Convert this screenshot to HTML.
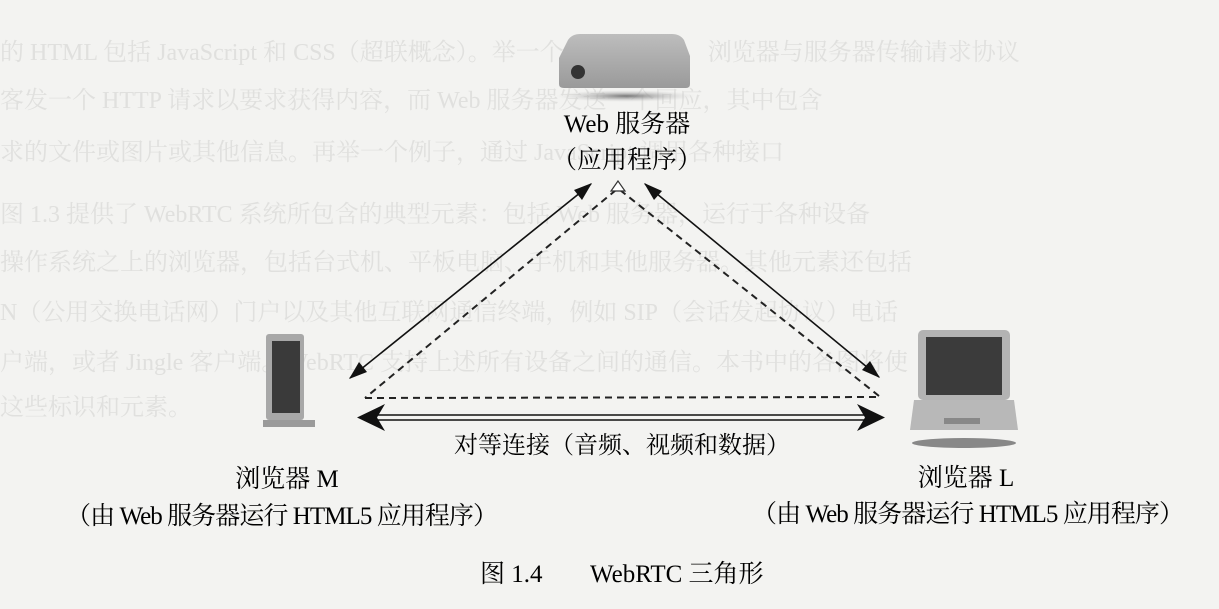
<!DOCTYPE html>
<html><head><meta charset="utf-8"><style>
html,body{margin:0;padding:0;background:#f3f3f1;}
svg{display:block;}
text{font-family:"Liberation Serif","Noto Serif CJK SC","Noto Sans CJK SC",serif;}
</style></head><body>
<svg width="1219" height="609" viewBox="0 0 1219 609" xmlns="http://www.w3.org/2000/svg">
<defs>
<linearGradient id="srv" x1="0" y1="0" x2="0" y2="1"><stop offset="0" stop-color="#bdbdbd"/><stop offset="1" stop-color="#9a9a9a"/></linearGradient>
<radialGradient id="sh"><stop offset="0" stop-color="#777"/><stop offset="1" stop-color="#ccc" stop-opacity="0"/></radialGradient>
</defs>
<rect width="1219" height="609" fill="#f3f3f1"/>
<g fill="#e0e0de" font-size="24">
<text x="0" y="60">的 HTML 包括 JavaScript 和 CSS（超联概念）。举一个简单的例子，浏览器与服务器传输请求协议</text>
<text x="0" y="108">客发一个 HTTP 请求以要求获得内容，而 Web 服务器发送一个回应，其中包含</text>
<text x="0" y="160">求的文件或图片或其他信息。再举一个例子，通过 JavaScript 调用各种接口</text>
<text x="0" y="222">图 1.3 提供了 WebRTC 系统所包含的典型元素：包括 Web 服务器，运行于各种设备</text>
<text x="0" y="270">操作系统之上的浏览器，包括台式机、平板电脑、手机和其他服务器。其他元素还包括</text>
<text x="0" y="320">N（公用交换电话网）门户以及其他互联网通信终端，例如 SIP（会话发起协议）电话</text>
<text x="0" y="370">户端，或者 Jingle 客户端。WebRTC 支持上述所有设备之间的通信。本书中的各图将使</text>
<text x="0" y="415">这些标识和元素。</text>
</g>
<ellipse cx="626" cy="96" rx="70" ry="6" fill="url(#sh)"/>
<path d="M568,40 Q572,34 580,34 L672,34 Q680,34 684,40 L690,56 L690,84 Q690,88 686,88 L564,88 Q559,88 559,84 L559,58 Z" fill="url(#srv)"/>
<circle cx="578" cy="72" r="7" fill="#333"/>
<text x="627" y="132" font-size="25" text-anchor="middle">Web 服务器</text>
<text x="627" y="168" font-size="25" text-anchor="middle">（应用程序）</text>
<g stroke="#111" stroke-width="1.6" fill="none">
<line x1="591" y1="184" x2="350" y2="378"/>
<line x1="645" y1="184" x2="879" y2="377"/>
</g>
<g fill="#111">
<polygon points="592,183 574,190 582,200"/>
<polygon points="349,379 367,372 359,362"/>
<polygon points="644,183 654,200 662,191"/>
<polygon points="880,378 870,361 862,370"/>
</g>
<g stroke="#222" stroke-width="2" fill="none" stroke-dasharray="7,5">
<line x1="616" y1="190" x2="365" y2="398"/>
<line x1="620" y1="190" x2="879" y2="396"/>
<line x1="365" y1="398" x2="879" y2="397"/>
</g>
<polygon points="618,181 611,191 625,191" fill="#fff" stroke="#333" stroke-width="1.2"/>
<g stroke="#111" stroke-width="1.6">
<line x1="370" y1="415" x2="872" y2="415"/>
<line x1="370" y1="420" x2="872" y2="420"/>
</g>
<polygon points="357,417.5 385,404 377,417.5 385,431" fill="#111"/>
<polygon points="885,417.5 857,404 865,417.5 857,431" fill="#111"/>
<text x="622" y="453" font-size="24" text-anchor="middle">对等连接（音频、视频和数据）</text>
<rect x="266" y="334" width="38" height="86" rx="3" fill="#a8a8a8"/>
<rect x="272" y="341" width="28" height="72" fill="#3a3a3a"/>
<rect x="263" y="420" width="52" height="7" fill="#9a9a9a"/>
<rect x="918" y="330" width="92" height="70" rx="5" fill="#b3b3b3"/>
<rect x="926" y="337" width="76" height="58" fill="#3b3b3b"/>
<path d="M914,400 L1014,400 L1018,430 L910,430 Z" fill="#b8b8b8"/>
<rect x="944" y="418" width="36" height="6" fill="#888"/>
<ellipse cx="964" cy="443" rx="52" ry="5" fill="#888"/>
<text x="287" y="487" font-size="25" text-anchor="middle">浏览器 M</text>
<text x="966" y="486" font-size="25" text-anchor="middle">浏览器 L</text>
<text x="282" y="524" font-size="25" text-anchor="middle" textLength="432">（由 Web 服务器运行 HTML5 应用程序）</text>
<text x="968" y="522" font-size="25" text-anchor="middle" textLength="432">（由 Web 服务器运行 HTML5 应用程序）</text>
<text x="480" y="582" font-size="25">图 1.4</text>
<text x="590" y="582" font-size="25">WebRTC 三角形</text>
</svg>
</body></html>
